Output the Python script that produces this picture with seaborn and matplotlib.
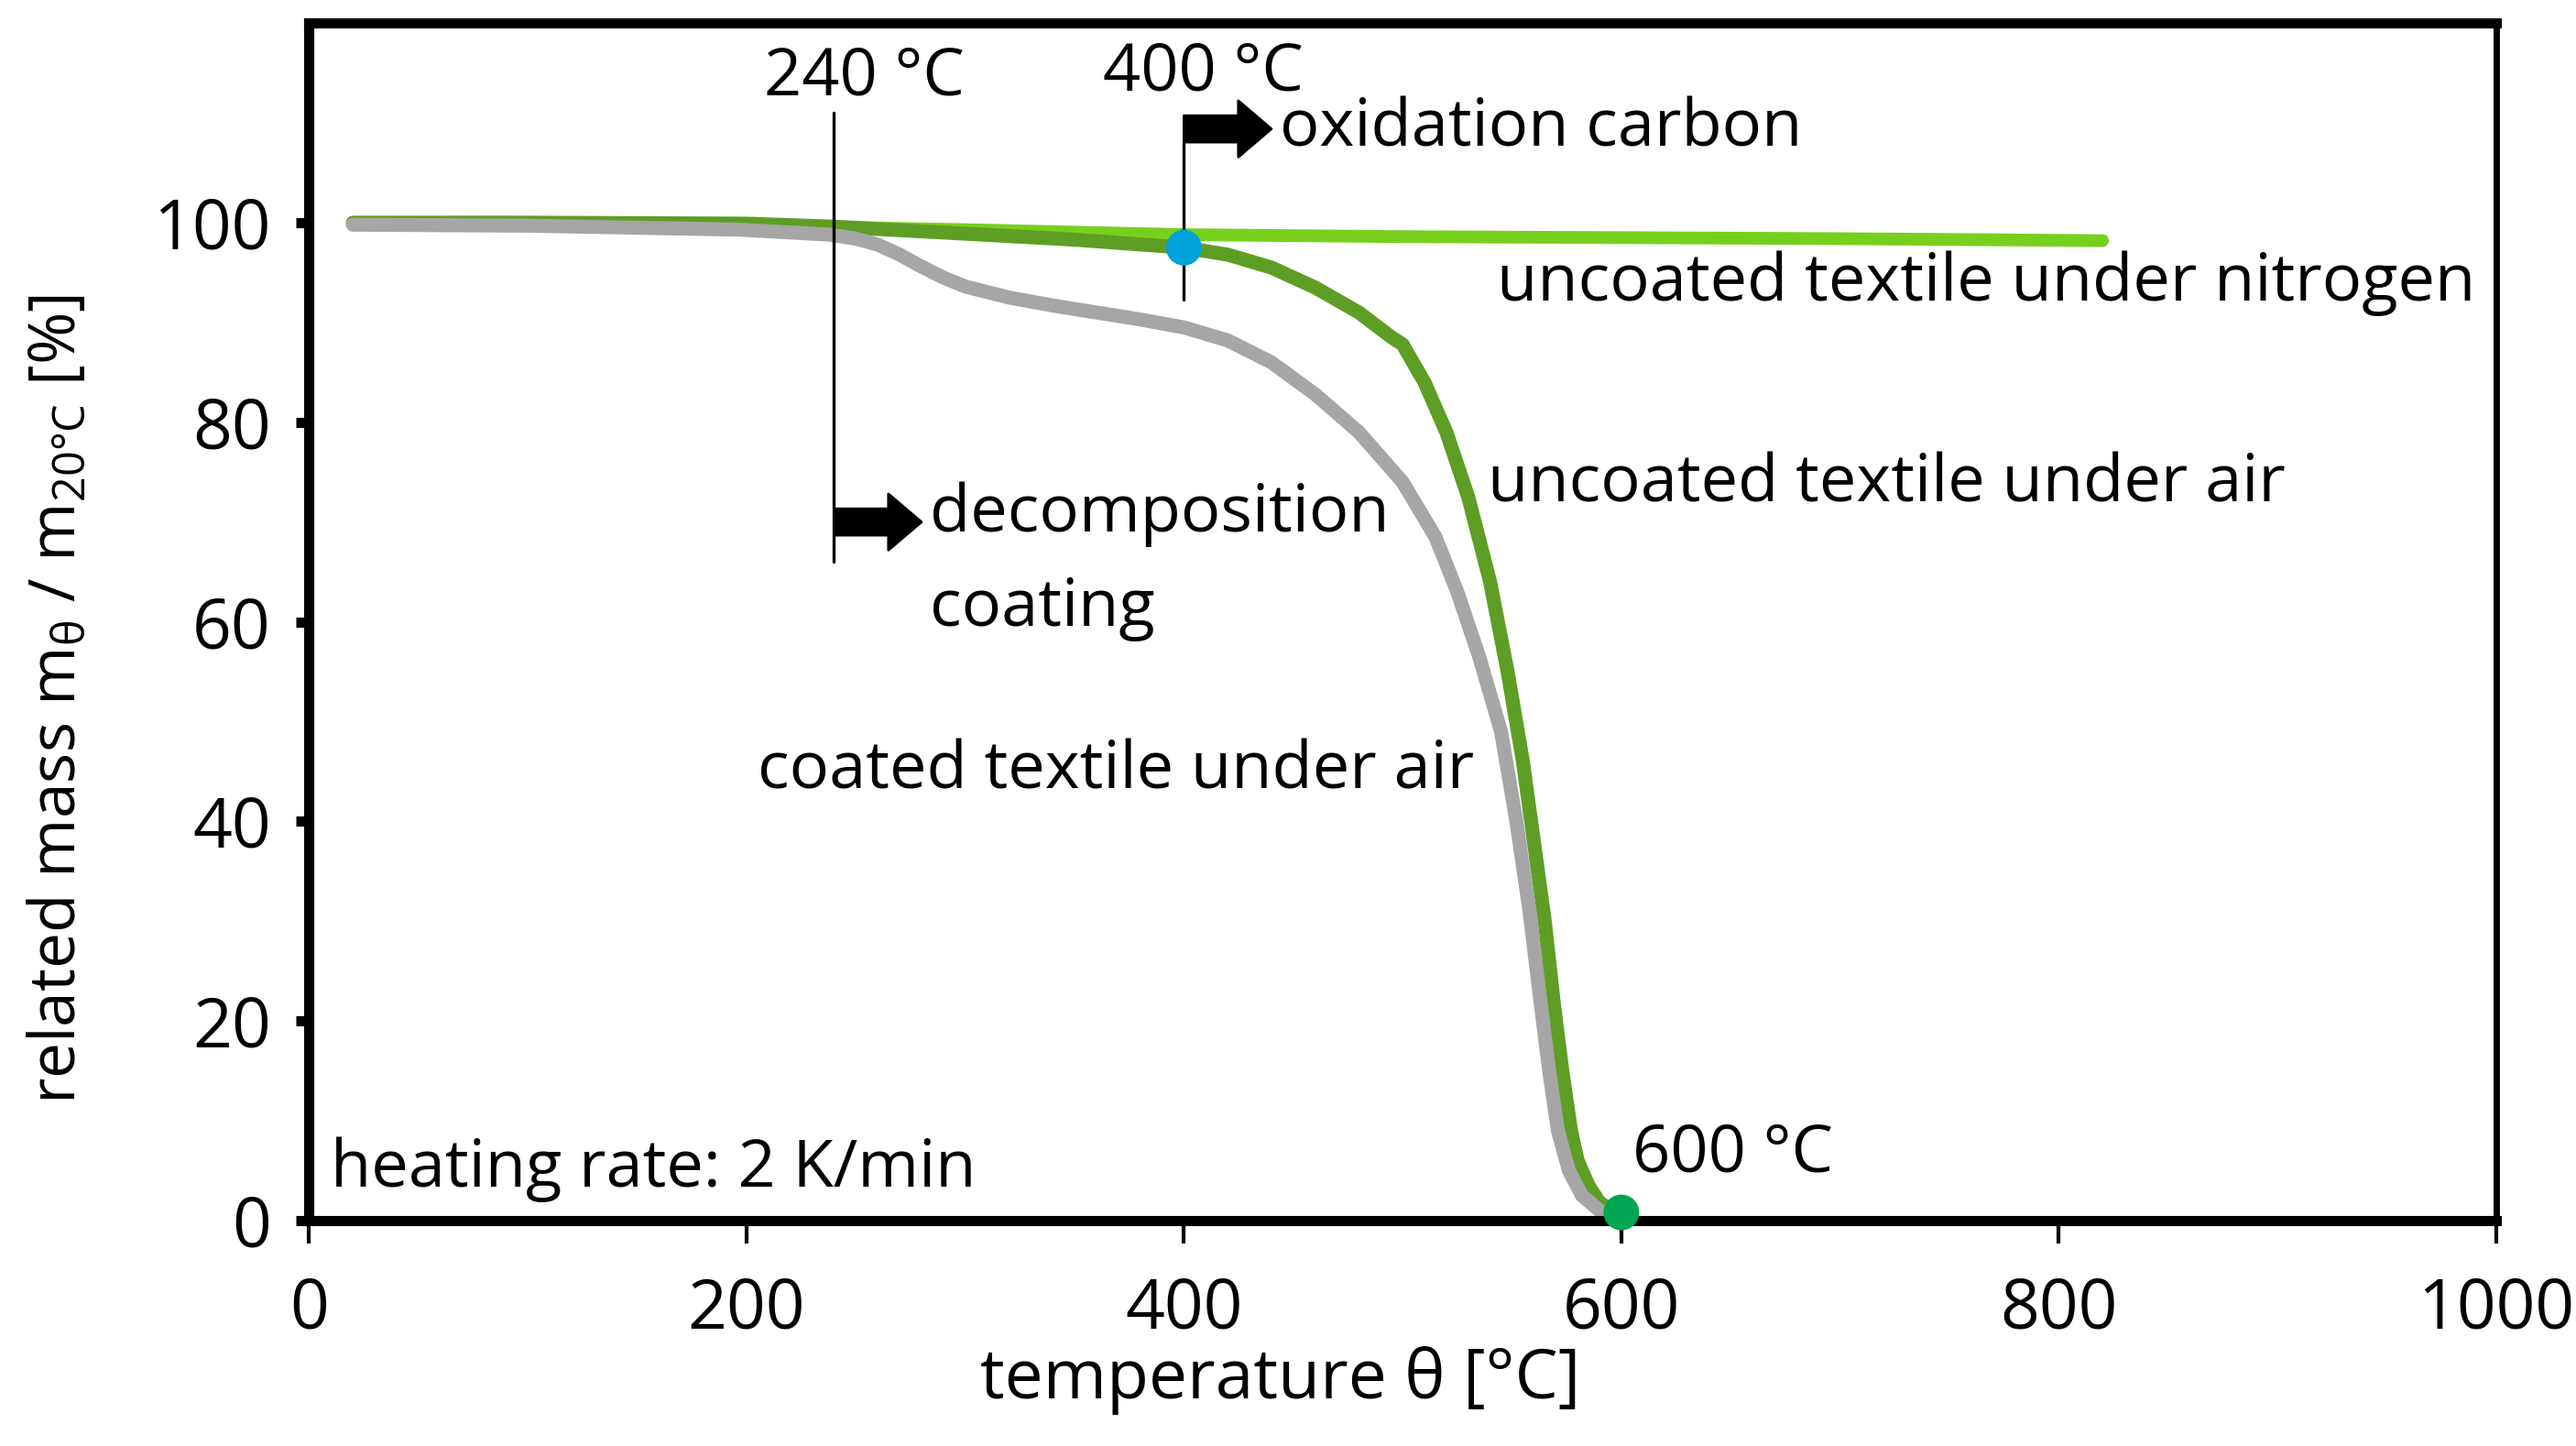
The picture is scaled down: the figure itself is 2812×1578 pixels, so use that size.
import matplotlib
matplotlib.use("Agg")
import matplotlib.pyplot as plt
import seaborn as sns
import pandas as pd

# values
temp_nitrogen = [20, 100, 200, 300, 400, 500, 600, 700, 820]
mass_nitrogen = [100, 99.9, 99.7, 99.3, 98.8, 98.6, 98.5, 98.4, 98.2]

temp_air = [20, 100, 200, 240, 300, 350, 400, 420, 440, 460, 480, 495, 500, 510, 520, 530, 540, 548,
            555, 560, 565, 569, 573, 577, 580, 585, 590, 597]
mass_air = [100, 100, 99.9, 99.6, 98.9, 98.3, 97.5, 96.8, 95.5, 93.5, 91, 88.5, 87.8, 84, 79, 72.5, 64,
            55, 46, 38, 30, 22, 15, 9, 6, 3.5, 1.8, 0.8]

temp_coated = [20, 100, 197, 238, 250, 260, 270, 280, 290, 300, 320, 340, 360, 380, 400, 420, 440, 460,
               480, 500, 515, 525, 535, 545, 552, 558, 563, 567, 571, 576, 582, 590, 595]
mass_coated = [99.8, 99.7, 99.3, 98.8, 98.4, 97.8, 96.8, 95.6, 94.5, 93.6, 92.5, 91.7, 91, 90.3, 89.5,
               88.2, 86, 82.8, 79, 74, 68.5, 63, 56.5, 49, 40, 31, 22, 15, 9, 5, 2.5, 1, 0.5]

marker_temps = [400, 600]
marker_mass = [97.5, 0.8]
marker_colors = ["#00a3d9", "#00a651"]

x_ticks = [0, 200, 400, 600, 800, 1000]
y_ticks = [0, 20, 40, 60, 80, 100]

sns.set_style("white")
plt.rcParams["font.family"] = ["Open Sans", "DejaVu Sans"]
plt.rcParams["text.color"] = "black"
plt.rcParams["axes.labelcolor"] = "black"
plt.rcParams["xtick.color"] = "black"
plt.rcParams["ytick.color"] = "black"

df_n = pd.DataFrame({"temp": temp_nitrogen, "mass": mass_nitrogen})
df_a = pd.DataFrame({"temp": temp_air, "mass": mass_air})
df_c = pd.DataFrame({"temp": temp_coated, "mass": mass_coated})

fig, ax = plt.subplots(figsize=(14.06, 7.89), dpi=200)
fig.subplots_adjust(left=0.12, right=0.969, top=0.984, bottom=0.156)

sns.lineplot(data=df_n, x="temp", y="mass", ax=ax, color="#77d01e", lw=5, sort=False,
             solid_capstyle="round")
sns.lineplot(data=df_a, x="temp", y="mass", ax=ax, color="#5e9e24", lw=5.5, sort=False,
             solid_capstyle="round", solid_joinstyle="round")
sns.lineplot(data=df_c, x="temp", y="mass", ax=ax, color="#a6a6a6", lw=5.5, sort=False,
             solid_capstyle="round", solid_joinstyle="round")

ax.scatter(marker_temps, marker_mass, c=marker_colors, s=170, zorder=5, clip_on=False)

# marker lines and arrows
ax.plot([240, 240], [66, 111], color="black", lw=1.2)
ax.plot([400, 400], [92.3, 108], color="black", lw=1.2)
arrow = dict(arrowstyle="simple,head_length=1.0,head_width=1.7,tail_width=0.8", color="black",
             mutation_scale=13, shrinkA=0, shrinkB=0)
ax.annotate("", xy=(280, 70), xytext=(240, 70), arrowprops=arrow)
ax.annotate("", xy=(440, 109.4), xytext=(400, 109.4), arrowprops=arrow)

fs = 26
ax.text(208, 114.5, "240 °C", fontsize=fs, va="center")
ax.text(363, 115, "400 °C", fontsize=fs, va="center")
ax.text(444, 109.4, "oxidation carbon", fontsize=fs, va="center")
ax.text(284, 70.8, "decomposition", fontsize=fs, va="center")
ax.text(284, 61.3, "coating", fontsize=fs, va="center")
ax.text(543, 93.9, "uncoated textile under nitrogen", fontsize=fs, va="center")
ax.text(539, 73.8, "uncoated textile under air", fontsize=fs, va="center")
ax.text(205, 45, "coated textile under air", fontsize=fs, va="center")
ax.text(605, 6.6, "600 °C", fontsize=fs, va="center")
ax.text(10, 5.1, "heating rate: 2 K/min", fontsize=fs, va="center")

ax.set_xlim(0, 1000)
ax.set_ylim(0, 120)
ax.set_xticks(x_ticks)
ax.set_yticks(y_ticks)
ax.tick_params(axis="x", direction="out", length=9, width=1.5, labelsize=27, pad=13, bottom=True)
ax.tick_params(axis="y", direction="out", length=5, width=4, labelsize=27, pad=10, left=True)

for side in ["left", "bottom", "top"]:
    ax.spines[side].set_linewidth(4)
ax.spines["right"].set_linewidth(2.5)
for s in ax.spines.values():
    s.set_color("black")

ax.set_xlabel("temperature θ [°C]", fontsize=27)
ax.set_ylabel(r"related mass m$_\mathregular{θ}$ / m$_\mathregular{20°C}$ [%]", fontsize=25)
ax.xaxis.set_label_coords(0.444, -0.105)
ax.yaxis.set_label_coords(-0.10, 0.435)

fig.savefig("out.png", dpi=200)
